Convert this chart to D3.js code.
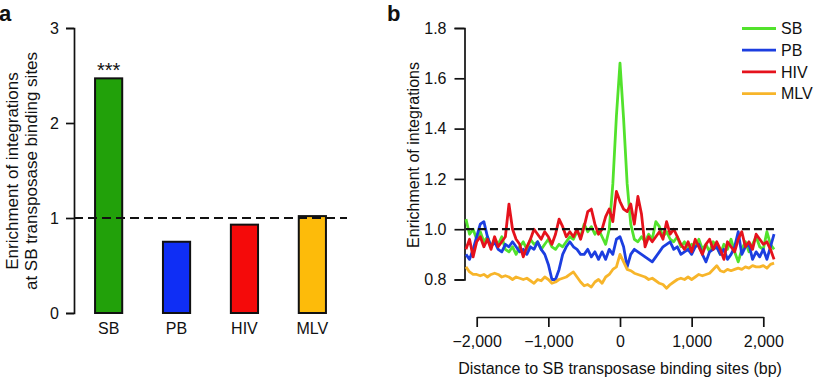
<!DOCTYPE html>
<html>
<head>
<meta charset="utf-8">
<script src="https://cdn.jsdelivr.net/npm/d3@7"></script>
<style>
  body { margin: 0; background: #fff; }
  text { font-family: "Liberation Sans", Arial, sans-serif; fill: #111; }
</style>
</head>
<body>
<div id="chart"></div>
<script>
// panel a data
const cats = ["SB", "PB", "HIV", "MLV"];
const enrich = [2.47, 0.75, 0.93, 1.02];
const barColors = ["#22a10a", "#0f2ef5", "#f50a0a", "#fdbb0a"];
const yTicksA = [0, 1, 2, 3];

// panel b data, one value every 50 bp from -2150 to 2150
const sbLine = [1.04,0.98,1.00,0.96,0.99,0.95,0.97,0.93,0.96,0.94,0.97,0.92,0.91,0.93,0.90,0.93,0.95,0.92,0.96,0.94,
  0.95,0.92,0.94,0.96,0.93,0.92,0.94,0.93,0.95,0.97,0.96,0.99,0.97,1.02,0.99,1.01,0.98,1.00,0.97,0.94,
  1.00,1.18,1.45,1.66,1.44,1.18,1.02,0.96,0.95,0.97,0.95,0.98,0.96,1.03,1.01,0.97,0.99,0.96,0.95,0.97,
  0.93,0.95,0.92,0.94,0.93,0.96,0.92,0.94,0.91,0.95,0.93,0.90,0.94,0.92,0.96,0.91,0.87,0.92,0.95,0.91,
  0.94,0.97,0.93,0.92,0.99,0.94,0.92];
const pbLine = [0.90,0.88,0.92,0.97,1.02,1.03,0.97,0.93,0.95,0.92,0.91,0.94,0.93,0.95,0.93,0.91,0.92,0.90,0.93,0.92,
  0.95,0.92,0.90,0.86,0.80,0.80,0.84,0.90,0.93,0.95,0.93,0.92,0.90,0.90,0.92,0.89,0.91,0.88,0.91,0.88,
  0.92,0.90,0.96,0.97,0.93,0.85,0.90,0.92,0.91,0.90,0.89,0.88,0.87,0.89,0.91,0.93,0.94,0.95,0.92,0.93,
  0.90,0.91,0.92,0.90,0.93,0.94,0.90,0.87,0.91,0.92,0.93,0.90,0.92,0.88,0.90,0.93,0.99,0.90,0.93,0.94,
  0.88,0.91,0.89,0.92,0.88,0.93,0.98];
const hivLine = [0.92,0.96,0.89,0.95,0.97,0.93,0.96,0.92,0.97,0.93,0.95,0.97,1.10,1.00,0.96,0.94,0.89,0.93,0.96,1.00,
  0.98,0.96,0.99,0.97,0.94,0.98,1.04,1.01,0.97,0.99,0.97,1.00,0.96,1.01,1.07,1.08,1.02,0.98,1.00,1.05,
  1.08,1.03,1.15,1.11,1.08,1.07,1.10,1.02,1.13,1.06,0.93,0.97,0.95,0.97,0.99,0.96,1.03,0.98,1.00,0.97,
  0.94,0.92,0.95,0.91,0.96,0.93,0.90,0.94,0.96,0.92,0.95,0.92,0.88,0.95,0.93,0.91,0.96,0.99,0.93,0.95,
  0.92,0.98,0.96,0.94,0.95,0.92,0.88];
const mlvLine = [0.85,0.83,0.82,0.82,0.815,0.82,0.81,0.82,0.825,0.82,0.81,0.815,0.81,0.80,0.81,0.805,0.80,0.805,0.795,0.785,
  0.80,0.795,0.81,0.80,0.785,0.79,0.80,0.805,0.81,0.82,0.83,0.81,0.79,0.775,0.78,0.77,0.79,0.80,0.785,0.81,
  0.82,0.84,0.85,0.90,0.87,0.84,0.835,0.825,0.82,0.815,0.81,0.80,0.805,0.795,0.785,0.78,0.765,0.78,0.79,0.80,
  0.805,0.80,0.81,0.80,0.81,0.82,0.815,0.82,0.825,0.84,0.855,0.835,0.83,0.84,0.835,0.84,0.845,0.84,0.85,0.845,
  0.855,0.85,0.85,0.855,0.845,0.86,0.865];
const bpPos = d3.range(-2150, 2151, 50);
const seriesNames = ["SB", "PB", "HIV", "MLV"];
const lineColors = ["#52e22c", "#1c3ee0", "#e5121c", "#f7b52a"];
const xTicksB = [-2000, -1000, 0, 1000, 2000];
const yTicksB = [0.8, 1.0, 1.2, 1.4, 1.6, 1.8];

const svg = d3.select("#chart").append("svg")
  .attr("width", 814)
  .attr("height", 378);

// ---------- panel a ----------
const yA = d3.scaleLinear().domain([0, 3]).range([313, 28]);
const xA = d3.scaleBand().domain(cats).range([74, 347]).paddingInner(0.6).paddingOuter(0.31);

svg.append("text").attr("x", -1).attr("y", 21)
  .style("font-size", "22px").style("font-weight", "bold").text("a");

const axA = svg.append("g").attr("transform", "translate(74,0)")
  .call(d3.axisLeft(yA).tickValues(yTicksA).tickSize(8).tickPadding(7).tickFormat(d3.format("d")));
axA.select(".domain").attr("stroke", "#111").attr("stroke-width", 1.7);
axA.selectAll(".tick line").attr("stroke", "#111").attr("stroke-width", 1.7);
axA.selectAll(".tick text").style("font-size", "16px").attr("fill", "#111")
  .style("font-family", "Liberation Sans, Arial, sans-serif");

svg.selectAll(".bar")
  .data(enrich)
  .enter().append("rect")
    .attr("x", (d, i) => xA(cats[i]))
    .attr("y", d => yA(d))
    .attr("width", xA.bandwidth())
    .attr("height", d => yA(0) - yA(d))
    .attr("fill", (d, i) => barColors[i])
    .attr("stroke", "#111")
    .attr("stroke-width", 2);

svg.selectAll(".catlab")
  .data(cats)
  .enter().append("text")
    .attr("x", d => xA(d) + xA.bandwidth() / 2)
    .attr("y", 334)
    .attr("text-anchor", "middle")
    .style("font-size", "16px")
    .text(d => d);

// reference line at 1
svg.append("line")
  .attr("x1", 74).attr("x2", 347)
  .attr("y1", yA(1)).attr("y2", yA(1))
  .attr("stroke", "#111").attr("stroke-width", 2.2)
  .attr("stroke-dasharray", "9,5");

svg.append("text")
  .attr("x", xA("SB") + xA.bandwidth() / 2)
  .attr("y", yA(enrich[0]) - 1)
  .attr("text-anchor", "middle")
  .style("font-size", "20px")
  .text("***");

svg.append("text")
  .attr("transform", "translate(12,171) rotate(-90)")
  .attr("text-anchor", "middle")
  .attr("dy", "0.35em")
  .style("font-size", "17px")
  .text("Enrichment of integrations");
svg.append("text")
  .attr("transform", "translate(31,171) rotate(-90)")
  .attr("text-anchor", "middle")
  .attr("dy", "0.35em")
  .style("font-size", "17px")
  .text("at SB transposase binding sites");

// ---------- panel b ----------
const xB = d3.scaleLinear().domain([-2000, 2000]).range([476.7, 763.3]);
const yB = d3.scaleLinear().domain([0.8, 1.8]).range([279.5, 28]);

svg.append("text").attr("x", 387).attr("y", 21)
  .style("font-size", "22px").style("font-weight", "bold").text("b");

const axBy = svg.append("g").attr("transform", "translate(464.5,0)")
  .call(d3.axisLeft(yB).tickValues(yTicksB).tickSize(10).tickPadding(8).tickFormat(d3.format(".1f")));
const axBx = svg.append("g").attr("transform", "translate(0,317)")
  .call(d3.axisBottom(xB).tickValues(xTicksB).tickSize(10).tickPadding(9).tickSizeOuter(0)
    .tickFormat(d => d3.format(",")(d).replace("-", "\u2212")));
[axBy, axBx].forEach(ax => {
  ax.select(".domain").attr("stroke", "#111").attr("stroke-width", 1.7);
  ax.selectAll(".tick line").attr("stroke", "#111").attr("stroke-width", 1.7);
  ax.selectAll(".tick text").style("font-size", "16px").attr("fill", "#111")
    .style("font-family", "Liberation Sans, Arial, sans-serif");
});

const lineGen = d3.line()
  .x((d, i) => xB(bpPos[i]))
  .y(d => yB(d))
  .curve(d3.curveLinear);

const allLines = [sbLine, pbLine, hivLine, mlvLine];
svg.append("g").selectAll("path")
  .data(allLines)
  .enter().append("path")
    .attr("d", lineGen)
    .attr("fill", "none")
    .attr("stroke", (d, i) => lineColors[i])
    .attr("stroke-width", 2.8)
    .attr("stroke-linejoin", "round");

svg.append("line")
  .attr("x1", xB(-2150)).attr("x2", xB(2150))
  .attr("y1", yB(1)).attr("y2", yB(1))
  .attr("stroke", "#111").attr("stroke-width", 2.2)
  .attr("stroke-dasharray", "8,4");

svg.append("text")
  .attr("transform", "translate(413,155) rotate(-90)")
  .attr("text-anchor", "middle")
  .attr("dy", "0.35em")
  .style("font-size", "16px")
  .text("Enrichment of integrations");

svg.append("text")
  .attr("x", xB(0)).attr("y", 374)
  .attr("text-anchor", "middle")
  .style("font-size", "16px")
  .text("Distance to SB transposase binding sites (bp)");

// legend
const leg = svg.append("g").selectAll("g")
  .data(seriesNames)
  .enter().append("g")
    .attr("transform", (d, i) => `translate(742,${28.5 + i * 21.7})`);
leg.append("line").attr("x1", 0).attr("x2", 34)
  .attr("stroke", (d, i) => lineColors[i]).attr("stroke-width", 2.8);
leg.append("text").attr("x", 39).attr("dy", "0.35em")
  .style("font-size", "16px").text(d => d);
</script>
</body>
</html>
